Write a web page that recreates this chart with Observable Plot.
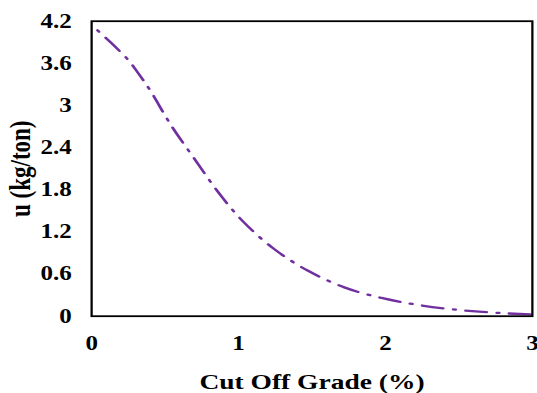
<!DOCTYPE html>
<html><head><meta charset="utf-8">
<script src="https://cdn.jsdelivr.net/npm/d3@7"></script>
<script src="https://cdn.jsdelivr.net/npm/@observablehq/plot@0.6"></script>
<style>
html,body{margin:0;padding:0;background:#fff;}
#chart svg{display:block;}
</style>
</head><body><div id="chart"></div>
<script>
// Data
const grade = [0.04, 0.24, 0.31, 0.40, 0.54, 0.70, 0.86, 1.03, 1.24, 1.47, 1.72, 1.98, 2.25, 2.54, 2.80, 3.00];
const usage = [4.07, 3.67, 3.48, 3.21, 2.72, 2.24, 1.77, 1.35, 0.96, 0.65, 0.41, 0.256, 0.152, 0.081, 0.043, 0.024];
const xTicks = [0, 1, 2, 3];
const yTicks = [0, 0.6, 1.2, 1.8, 2.4, 3, 3.6, 4.2];
const xTitle = "Cut Off Grade (%)";
const yTitle = "u (kg/ton)";

const data = grade.map((g, i) => ({grade: g, u: usage[i]}));

const W = 537, H = 393;
const SX = 1.25;           // horizontal stretch of the reference
const W0 = W / SX;
const font = "'Liberation Serif', 'Times New Roman', serif";

const chart = Plot.plot({
  width: W0, height: H,
  marginLeft: 72.8, marginRight: 4.2, marginTop: 20.7, marginBottom: 77.3,
  style: {fontFamily: font, fontWeight: "bold", color: "#000", background: "#fff", overflow: "visible"},
  x: {domain: [0, 3]},
  y: {domain: [0, 4.2]},
  marks: [
    Plot.axisX(xTicks, {tickSize: 0, tickPadding: 20, fontSize: 20, fontWeight: "bold", tickFormat: d => String(d), label: null}),
    Plot.axisX([], {fontSize: 22, fontWeight: "bold", label: xTitle, labelAnchor: "center", labelArrow: "none", labelOffset: 72.5}),
    Plot.axisY(yTicks, {tickSize: 0, tickPadding: 16, fontSize: 20, fontWeight: "bold", tickFormat: d => String(d), label: null}),
    Plot.axisY([], {fontSize: 23, fontWeight: "bold", label: yTitle, labelAnchor: "center", labelArrow: "none", labelOffset: 65.5}),
    Plot.line(data, {x: "grade", y: "u", stroke: "#7030A0", strokeWidth: 2.3, curve: "catmull-rom", strokeDasharray: "17,8,2,8", strokeDashoffset: 25}),
    Plot.frame({stroke: "#000", strokeWidth: 1.8})
  ]
});
chart.setAttribute("preserveAspectRatio", "none");
chart.setAttribute("width", W);
chart.style.width = W + "px";
chart.style.height = H + "px";
chart.style.maxWidth = "none";
document.getElementById("chart").appendChild(chart);
</script>
</body></html>
